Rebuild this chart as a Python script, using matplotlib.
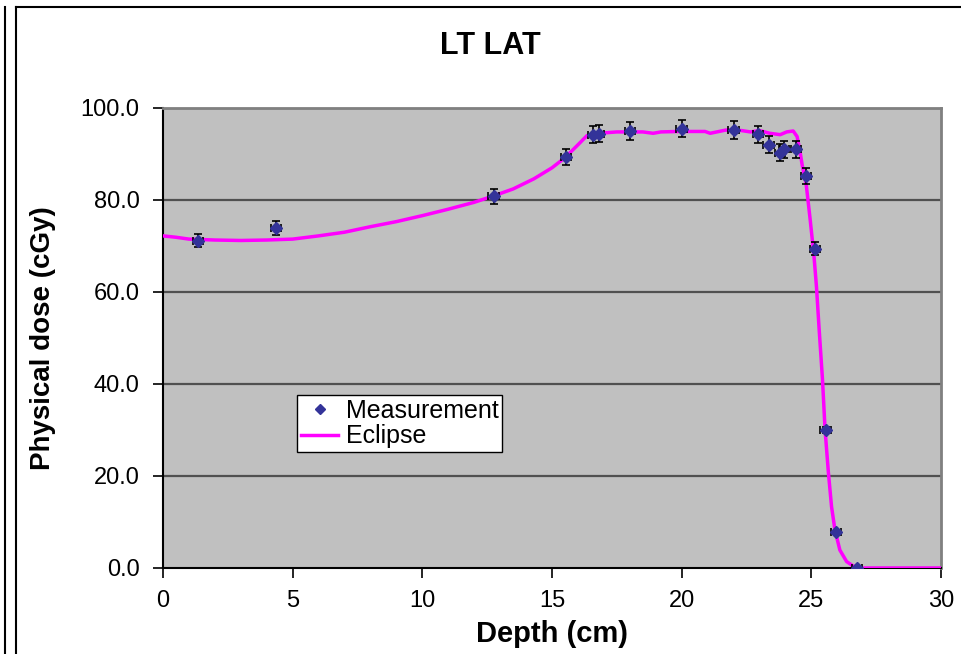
import numpy as np
import matplotlib
matplotlib.use("Agg")
import matplotlib.pyplot as plt
from matplotlib.lines import Line2D

plt.rcParams["font.family"] = ["Liberation Sans", "DejaVu Sans"]

# ==========================
# Data
# ==========================
depth_meas = [1.35, 4.35, 12.75, 15.55, 16.6, 16.8, 18.0, 20.0, 22.0, 22.95,
              23.35, 23.8, 23.95, 24.4, 24.8, 25.15, 25.55, 25.95, 26.75]
dose_meas = [71.1, 73.9, 80.8, 89.3, 94.2, 94.4, 95.0, 95.5, 95.2, 94.3,
             92.0, 90.3, 91.0, 91.0, 85.2, 69.4, 30.0, 7.8, 0.0]

# dose uncertainty 2 %, depth uncertainty 0.2 cm
dose_err_frac = 0.02
depth_err = 0.2

ecl_depth = [0, 0.5, 1.0, 2.0, 3.0, 4.0, 5.0, 6.0, 7.0, 8.0, 9.0, 10.0, 11.0,
             12.0, 12.75, 13.5, 14.3, 15.0, 15.5, 16.0, 16.35, 16.8, 17.5,
             18.5, 18.9, 19.2, 19.9, 20.9, 21.1, 21.7, 22.3, 22.65, 23.0,
             23.4, 23.8, 24.05, 24.3, 24.45, 24.55, 24.65, 24.8, 24.95, 25.1,
             25.2, 25.3, 25.43, 25.53, 25.66, 25.78, 25.91, 26.1, 26.36,
             26.62, 26.9, 30.0]
ecl_dose = [72.2, 71.9, 71.5, 71.3, 71.2, 71.3, 71.5, 72.2, 73.0, 74.2, 75.3,
            76.6, 78.0, 79.5, 80.9, 82.4, 84.6, 87.0, 89.2, 92.0, 94.0, 94.5,
            94.8, 94.8, 94.5, 94.8, 94.9, 94.9, 94.5, 95.2, 95.1, 94.8, 95.1,
            94.5, 94.2, 94.8, 95.0, 93.8, 91.0, 87.5, 83.5, 76.0, 68.0, 61.0,
            52.0, 41.0, 30.0, 20.6, 13.3, 8.3, 3.9, 1.4, 0.4, 0.0, 0.0]

x_ticks = [0, 5, 10, 15, 20, 25, 30]
y_ticks = [0, 20, 40, 60, 80, 100]

# ==========================
# Figure
# ==========================
W, H = 961, 654
fig = plt.figure(figsize=(W / 100, H / 100), dpi=100)
ax = fig.add_axes([163 / W, 1 - 568 / H, 778 / W, 460 / H])
ax.set_facecolor("#C0C0C0")

# outer chart frame lines
def px_line(x0, y0, x1, y1, **kw):
    fig.add_artist(Line2D([x0 / W, x1 / W], [1 - y0 / H, 1 - y1 / H],
                          transform=fig.transFigure, **kw))

px_line(5, 7, 5, H, color="black", lw=1.5)
px_line(16, 7, 16, H, color="black", lw=1.5)
px_line(16, 7, W, 7, color="black", lw=1.5)

# grid lines
for y in y_ticks[1:]:
    ax.axhline(y, color="#505050", lw=1.6, zorder=1)

ax.plot(ecl_depth, ecl_dose, color="#FF00FF", lw=2.5, zorder=3,
        label="Eclipse")

dose_err = [d * dose_err_frac for d in dose_meas]
ax.errorbar(depth_meas, dose_meas, yerr=dose_err, xerr=depth_err,
            fmt="none", ecolor="black", elinewidth=1.2, capsize=3.2,
            capthick=1.2, zorder=4)
ax.plot(depth_meas, dose_meas, linestyle="none", marker="D",
        markersize=6.5, color="#333399", zorder=5, label="Measurement")

ax.set_xlim(0, 30)
ax.set_ylim(0, 100)
ax.set_xticks(x_ticks)
ax.set_yticks(y_ticks)
ax.set_yticklabels([f"{v:.1f}" for v in y_ticks])
ax.tick_params(axis="both", direction="out", length=7, width=1.2,
               labelsize=17, colors="black")
ax.tick_params(axis="x", pad=9)
ax.tick_params(axis="y", pad=10)

for side in ["left", "bottom"]:
    ax.spines[side].set_color("black")
    ax.spines[side].set_linewidth(1.5)
ax.spines["top"].set_color("#808080")
ax.spines["top"].set_linewidth(2)
ax.spines["right"].set_color("#808080")
ax.spines["right"].set_linewidth(2)

ax.set_xlabel("Depth (cm)", fontsize=21, fontweight="bold")
ax.xaxis.set_label_coords(0.5, (568 - 634) / 460)
ax.xaxis.label.set_va("center")
ax.set_ylabel("Physical dose (cGy)", fontsize=20, fontweight="bold")
ax.yaxis.set_label_coords((43 - 163) / 778, 0.5)
ax.yaxis.label.set_va("center")
fig.text(490 / W, 1 - 46 / H, "LT LAT", fontsize=22, fontweight="bold",
         ha="center", va="center")

handles, labels = ax.get_legend_handles_labels()
leg = ax.legend(handles[::-1], labels[::-1], loc="lower left",
                bbox_to_anchor=((297 - 163) / 778, (568 - 452) / 460),
                fontsize=18, frameon=True, fancybox=False,
                edgecolor="black", facecolor="white", framealpha=1,
                handlelength=1.5, borderpad=0.15, labelspacing=0.05,
                handletextpad=0.3, borderaxespad=0)
leg.legend_handles[0].set_markersize(5)
leg.get_frame().set_linewidth(1.0)

fig.savefig("out.png", dpi=100)
